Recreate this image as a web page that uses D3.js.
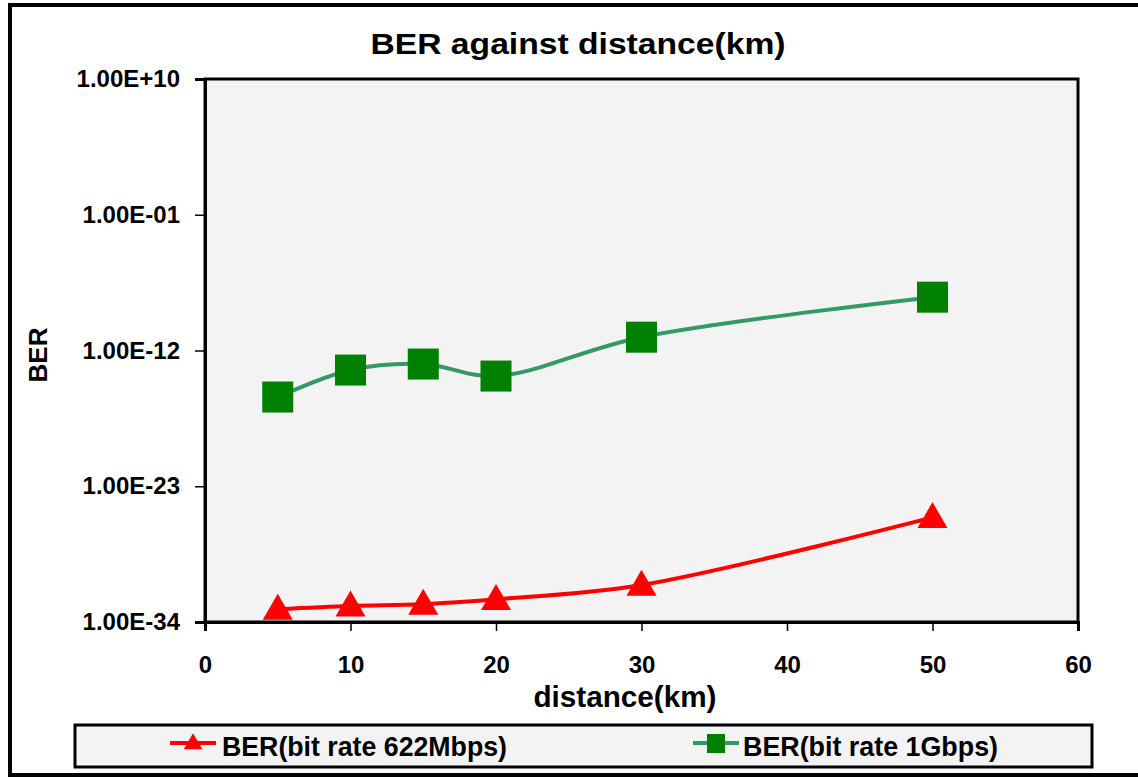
<!DOCTYPE html>
<html><head><meta charset="utf-8">
<script src="https://cdn.jsdelivr.net/npm/d3@7"></script>
<style>body{margin:0;background:#fff}svg{display:block}text{font-family:"Liberation Sans",Arial,sans-serif;font-weight:bold;fill:#000}</style>
</head><body>
<script>
const distances = [5, 10, 15, 20, 30, 50];
const ber622 = [1.1e-33, 2e-33, 2.8e-33, 7e-33, 1e-31, 3e-26];
const ber1G = [1.7e-16, 2.6e-14, 8e-14, 8.5e-15, 1.2e-11, 2.1e-8];
const xTicks = [0, 10, 20, 30, 40, 50, 60];
const yTicks = [1e10, 1e-1, 1e-12, 1e-23, 1e-34];
const yTickLabels = ["1.00E+10", "1.00E-01", "1.00E-12", "1.00E-23", "1.00E-34"];
const seriesNames = ["BER(bit rate 622Mbps)", "BER(bit rate 1Gbps)"];

const W = 1138, H = 777;
const L = 205, R = 1078, T = 79, B = 622;
const svg = d3.select("body").append("svg").attr("width", W).attr("height", H);

// outer frame
svg.append("rect").attr("x", 10).attr("y", 5).attr("width", 1140).attr("height", 770)
  .attr("fill", "#fff").attr("stroke", "#000").attr("stroke-width", 4);

const x = d3.scaleLinear().domain([0, 60]).range([L, R]);
const y = d3.scaleLog().domain([1e-34, 1e10]).range([B, T]);

svg.append("rect").attr("x", L).attr("y", T).attr("width", R - L).attr("height", B - T)
  .attr("fill", "#f3f3f3").attr("stroke", "#000").attr("stroke-width", 3);

// axes
const gx = svg.append("g").attr("transform", `translate(0,${B})`)
  .call(d3.axisBottom(x).tickValues(xTicks).tickSize(9).tickPadding(25).tickFormat(d3.format("d")));
const gy = svg.append("g").attr("transform", `translate(${L},0)`)
  .call(d3.axisLeft(y).tickValues(yTicks).tickSize(10).tickPadding(15).tickFormat((d, i) => yTickLabels[i]));
[gx, gy].forEach(g => {
  g.select(".domain").attr("stroke", "#000").attr("stroke-width", 3);
  g.selectAll(".tick line").attr("stroke", "#000").attr("stroke-width", 1.5);
  g.selectAll(".tick text").attr("fill", "#000").style("font-size", "24px")
    .style("font-family", '"Liberation Sans",Arial,sans-serif').style("font-weight", "bold");
});

const line = d3.line().x(d => x(d[0])).y(d => y(d[1])).curve(d3.curveCatmullRom.alpha(0.5));
const d622 = distances.map((d, i) => [d, ber622[i]]);
const d1G = distances.map((d, i) => [d, ber1G[i]]);

const plot = svg.append("g");
plot.append("path").datum(d1G).attr("d", line).attr("fill", "none").attr("stroke", "#339966").attr("stroke-width", 4);
plot.append("path").datum(d622).attr("d", line).attr("fill", "none").attr("stroke", "#ff0000").attr("stroke-width", 4);

const tri = d3.symbol().type(d3.symbolTriangle);
plot.selectAll(".sq").data(d1G).join("rect")
  .attr("x", d => x(d[0]) - 15.5).attr("y", d => y(d[1]) - 15.5).attr("width", 31).attr("height", 31).attr("fill", "#008000");
plot.selectAll(".tr").data(d622).join("path")
  .attr("transform", d => `translate(${x(d[0])},${y(d[1]) + 2})`)
  .attr("d", tri.size(390)).attr("fill", "#ff0000");

// titles
svg.append("text").attr("x", 578).attr("y", 54).attr("text-anchor", "middle").style("font-size", "29px")
  .attr("textLength", 415).attr("lengthAdjust", "spacingAndGlyphs").text("BER against distance(km)");
svg.append("text").attr("x", 625).attr("y", 707).attr("text-anchor", "middle").style("font-size", "29px")
  .attr("textLength", 183).attr("lengthAdjust", "spacingAndGlyphs").text("distance(km)");
svg.append("text").attr("transform", "translate(47,355) rotate(-90)").attr("text-anchor", "middle").style("font-size", "26px")
  .attr("textLength", 55).attr("lengthAdjust", "spacingAndGlyphs").text("BER");

// legend
svg.append("rect").attr("x", 75).attr("y", 725).attr("width", 1017).attr("height", 42)
  .attr("fill", "#f3f3f3").attr("stroke", "#000").attr("stroke-width", 3);
const lg = svg.append("g");
const items = [
  {name: seriesNames[0], cx: 193, tx: 222, tl: 285, color: "#ff0000", marker: "tri"},
  {name: seriesNames[1], cx: 716, tx: 743, tl: 255, color: "#339966", mcolor: "#008000", marker: "sq"}
];
items.forEach(it => {
  lg.append("line").attr("x1", it.cx - 23).attr("x2", it.cx + 23).attr("y1", 743).attr("y2", 743)
    .attr("stroke", it.color).attr("stroke-width", 4);
  if (it.marker === "tri") {
    lg.append("path").attr("transform", `translate(${it.cx},744)`).attr("d", tri.size(150)).attr("fill", "#ff0000");
  } else {
    lg.append("rect").attr("x", it.cx - 9).attr("y", 734).attr("width", 18).attr("height", 19).attr("fill", it.mcolor);
  }
  lg.append("text").attr("x", it.tx).attr("y", 756).style("font-size", "27px")
    .attr("textLength", it.tl).attr("lengthAdjust", "spacingAndGlyphs").text(it.name);
});
</script>
</body></html>
